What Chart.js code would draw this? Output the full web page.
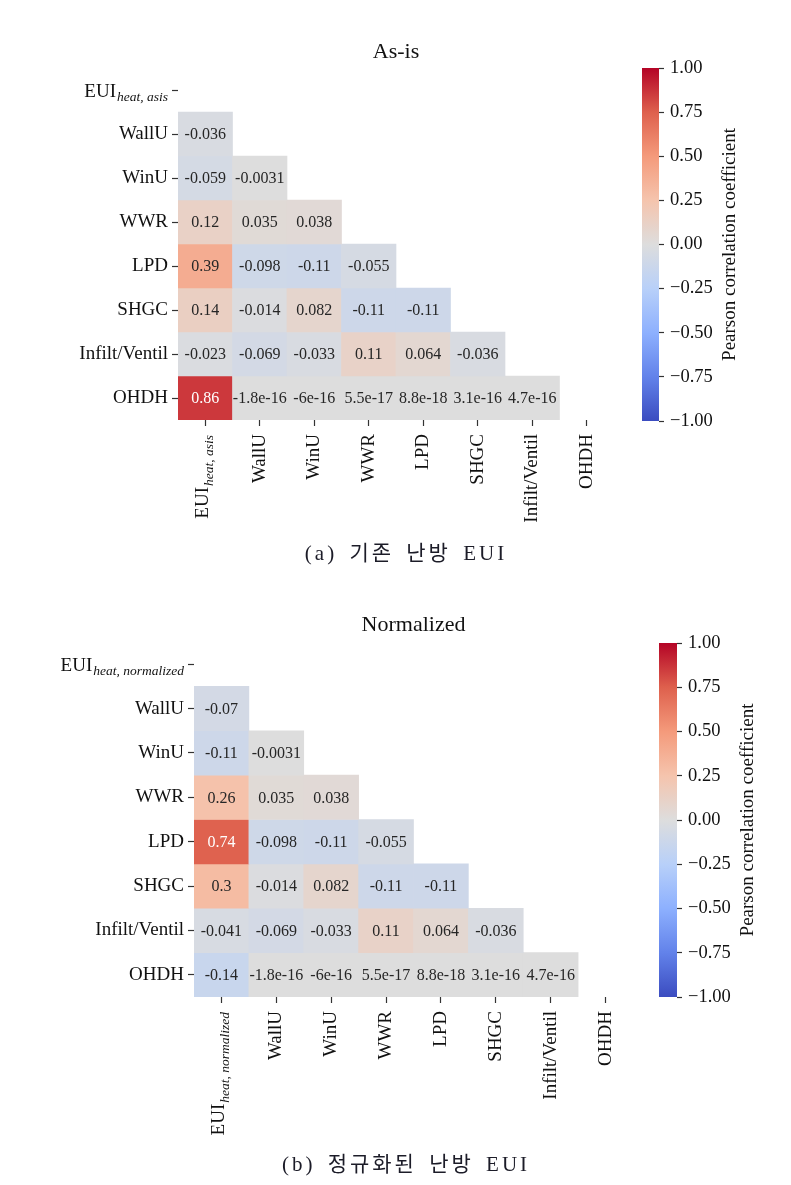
<!DOCTYPE html>
<html lang="ko">
<head>
<meta charset="utf-8">
<title>Pearson correlation heatmaps</title>
<script src="https://cdn.jsdelivr.net/npm/chart.js@4.4.1/dist/chart.umd.min.js"></script>
<style>
    html, body { margin: 0; padding: 0; background: #fff; }
    #page { position: relative; width: 791px; height: 1185px; overflow: hidden; }
    #page canvas { position: absolute; left: 0; top: 0; }
    .caption {
        position: absolute;
        left: 206px;
        width: 400px;
        text-align: center;
        font-family: "Liberation Serif", "Noto Sans CJK KR", serif;
        font-size: 21px;
        line-height: 24px;
        letter-spacing: 3px;
        word-spacing: 4px;
        color: #1c1c28;
        white-space: pre;
    }
</style>
</head>
<body>
<div id="page">
    <canvas id="heatA" width="791" height="1185"></canvas>
    <canvas id="barA" width="791" height="1185"></canvas>
    <canvas id="heatB" width="791" height="1185"></canvas>
    <canvas id="barB" width="791" height="1185"></canvas>
    <div class="caption" style="top:541px">(a) 기존 난방 EUI</div>
    <div class="caption" style="top:1152px">(b) 정규화된 난방 EUI</div>
</div>
<script>
// Correlation heatmaps (lower triangle), seaborn-style

const categories = ['EUI', 'WallU', 'WinU', 'WWR', 'LPD', 'SHGC', 'Infilt/Ventil', 'OHDH'];

// row r holds the correlations with columns 0..r-1
const asisCorr = [
    [],
    [-0.036],
    [-0.059, -0.0031],
    [0.12, 0.035, 0.038],
    [0.39, -0.098, -0.11, -0.055],
    [0.14, -0.014, 0.082, -0.11, -0.11],
    [-0.023, -0.069, -0.033, 0.11, 0.064, -0.036],
    [0.86, -1.8e-16, -6e-16, 5.5e-17, 8.8e-18, 3.1e-16, 4.7e-16]
];

const normCorr = [
    [],
    [-0.07],
    [-0.11, -0.0031],
    [0.26, 0.035, 0.038],
    [0.74, -0.098, -0.11, -0.055],
    [0.3, -0.014, 0.082, -0.11, -0.11],
    [-0.041, -0.069, -0.033, 0.11, 0.064, -0.036],
    [-0.14, -1.8e-16, -6e-16, 5.5e-17, 8.8e-18, 3.1e-16, 4.7e-16]
];

const colorbarTicks = [-1, -0.75, -0.5, -0.25, 0, 0.25, 0.5, 0.75, 1];

const W = 791, H = 1185;
const SERIF = '"Liberation Serif", "Times New Roman", serif';
const INK = '#111111';

// coolwarm colour stops, -1 .. 1
const coolwarmStops = [
    [59, 76, 192], [98, 130, 234], [141, 176, 254], [184, 208, 249],
    [221, 221, 221], [245, 196, 173], [244, 154, 123], [222, 96, 77], [180, 4, 38]
];

function coolwarmRgb(v) {
    const t = (Math.max(-1, Math.min(1, v)) + 1) / 2 * (coolwarmStops.length - 1);
    const i = Math.min(coolwarmStops.length - 2, Math.floor(t));
    const f = t - i;
    const a = coolwarmStops[i], b = coolwarmStops[i + 1];
    return [0, 1, 2].map(k => Math.round(a[k] + (b[k] - a[k]) * f));
}

function coolwarm(v) {
    const [r, g, b] = coolwarmRgb(v);
    return `rgb(${r},${g},${b})`;
}

function luminance(v) {
    const lin = coolwarmRgb(v).map(c => {
        c /= 255;
        return c <= 0.03928 ? c / 12.92 : Math.pow((c + 0.055) / 1.055, 2.4);
    });
    return 0.2126 * lin[0] + 0.7152 * lin[1] + 0.0722 * lin[2];
}

// python '.2g'
function fmt2g(v) {
    let s = v.toPrecision(2);
    if (s.includes('e')) {
        let [m, e] = s.split('e');
        if (m.includes('.')) m = m.replace(/0+$/, '').replace(/\.$/, '');
        const sign = e[0] === '-' ? '-' : '+';
        e = e.replace(/^[+-]/, '').padStart(2, '0');
        return `${m}e${sign}${e}`;
    }
    if (s.includes('.')) s = s.replace(/0+$/, '').replace(/\.$/, '');
    return s;
}

// numbers printed in each cell
const cellText = {
    id: 'cellText',
    afterDatasetsDraw(chart) {
        const corr = chart.options.plugins.cellText.corr;
        const ctx = chart.ctx;
        ctx.save();
        ctx.font = `16px ${SERIF}`;
        ctx.textAlign = 'center';
        ctx.textBaseline = 'middle';
        chart.data.datasets.forEach((ds, di) => {
            const r = ds.row;
            chart.getDatasetMeta(di).data.forEach((bar, c) => {
                if (c >= r) return;
                const v = corr[r][c];
                const p = bar.getCenterPoint();
                ctx.fillStyle = luminance(v) > 0.408 ? '#262626' : '#ffffff';
                ctx.fillText(fmt2g(v), p.x, p.y + 1);
            });
        });
        ctx.restore();
    }
};

// EUI label with italic subscript on both axes
const euiLabels = {
    id: 'euiLabels',
    afterDraw(chart) {
        const sub = chart.options.plugins.euiLabels.sub;
        const ctx = chart.ctx;
        const area = chart.chartArea;
        const y0 = chart.scales.y.getPixelForValue(0.5);
        const x0 = chart.scales.x.getPixelForValue(0);
        ctx.save();
        ctx.fillStyle = INK;
        ctx.textBaseline = 'alphabetic';
        ctx.textAlign = 'right';

        ctx.font = `italic 13.5px ${SERIF}`;
        const subW = ctx.measureText(sub).width;

        // y axis
        const endX = area.left - 10;
        ctx.fillText(sub, endX, y0 + 11);
        ctx.font = `19px ${SERIF}`;
        ctx.fillText('EUI', endX - subW - 1, y0 + 7);

        // x axis, rotated
        ctx.translate(x0, area.bottom + 15);
        ctx.rotate(-Math.PI / 2);
        ctx.font = `italic 13.5px ${SERIF}`;
        ctx.fillText(sub, 0, 8);
        ctx.font = `19px ${SERIF}`;
        ctx.fillText('EUI', -subW - 1, 3);
        ctx.restore();
    }
};

function heatmap(id, corr, sub, title, box) {
    const datasets = [];
    corr.forEach((row, r) => {
        if (r === 0) return;
        datasets.push({
            label: categories[r],
            row: r,
            data: categories.map((_, c) => (c < r ? [r, r + 1] : null)),
            backgroundColor: ctx => coolwarm(corr[r][ctx.dataIndex] ?? 0),
            borderWidth: 0
        });
    });

    const padTop = box.titleY - 13.2;
    const tickFont = { family: SERIF, size: 19 };
    const tickGrid = {
        drawOnChartArea: false,
        drawTicks: true,
        tickLength: 6,
        tickWidth: 1.2,
        tickColor: '#333333',
        offset: false
    };

    new Chart(document.getElementById(id), {
        type: 'bar',
        data: { labels: categories, datasets },
        options: {
            responsive: false,
            animation: false,
            devicePixelRatio: 1,
            layout: { padding: { left: 0, right: W - box.right, top: padTop, bottom: 0 } },
            datasets: { bar: { grouped: false, barPercentage: 1, categoryPercentage: 1 } },
            plugins: {
                legend: { display: false },
                tooltip: { enabled: false },
                title: {
                    display: true,
                    text: title,
                    fullSize: false,
                    color: INK,
                    font: { family: SERIF, size: 22, weight: 'normal', lineHeight: 1.2 },
                    padding: { top: 0, bottom: box.top - padTop - 26.4 }
                },
                cellText: { corr },
                euiLabels: { sub }
            },
            scales: {
                x: {
                    type: 'category',
                    offset: true,
                    grid: tickGrid,
                    border: { display: false },
                    ticks: {
                        autoSkip: false,
                        minRotation: 90,
                        maxRotation: 90,
                        padding: 8,
                        color: INK,
                        font: tickFont,
                        callback: (v, i) => (i === 0 ? '' : categories[i])
                    },
                    afterFit: s => { s.height = H - box.bottom; }
                },
                y: {
                    type: 'linear',
                    reverse: true,
                    min: 0,
                    max: categories.length,
                    grid: tickGrid,
                    border: { display: false },
                    afterBuildTicks: s => { s.ticks = categories.map((_, i) => ({ value: i + 0.5 })); },
                    ticks: {
                        padding: 4,
                        color: INK,
                        font: tickFont,
                        callback: (v, i) => (i === 0 ? '' : categories[i])
                    },
                    afterFit: s => { s.width = box.left; }
                }
            }
        },
        plugins: [cellText, euiLabels]
    });
}

const colorbarTitle = {
    id: 'colorbarTitle',
    afterDraw(chart) {
        const a = chart.chartArea;
        const ctx = chart.ctx;
        ctx.save();
        ctx.translate(a.right + 71, (a.top + a.bottom) / 2);
        ctx.rotate(-Math.PI / 2);
        ctx.font = `19px ${SERIF}`;
        ctx.fillStyle = INK;
        ctx.textAlign = 'center';
        ctx.textBaseline = 'middle';
        ctx.fillText('Pearson correlation coefficient', 0, 0);
        ctx.restore();
    }
};

function colorbarFill(chart) {
    const a = chart.chartArea;
    if (!a) return coolwarm(0);
    const g = chart.ctx.createLinearGradient(0, a.bottom, 0, a.top);
    coolwarmStops.forEach((c, i) => {
        g.addColorStop(i / (coolwarmStops.length - 1), `rgb(${c[0]},${c[1]},${c[2]})`);
    });
    return g;
}

function colorbar(id, box) {
    new Chart(document.getElementById(id), {
        type: 'bar',
        data: {
            labels: ['r'],
            datasets: [{
                data: [[-1, 1]],
                backgroundColor: ctx => colorbarFill(ctx.chart),
                borderWidth: 0,
                barPercentage: 1,
                categoryPercentage: 1
            }]
        },
        options: {
            responsive: false,
            animation: false,
            devicePixelRatio: 1,
            layout: { padding: { left: box.left, right: 0, top: box.top, bottom: H - box.bottom } },
            plugins: { legend: { display: false }, tooltip: { enabled: false } },
            scales: {
                x: { display: false },
                y: {
                    position: 'right',
                    min: -1,
                    max: 1,
                    grid: { drawOnChartArea: false, drawTicks: true, tickLength: 5, tickWidth: 1.2, tickColor: '#333333' },
                    border: { display: false },
                    afterBuildTicks: s => { s.ticks = colorbarTicks.map(v => ({ value: v })); },
                    ticks: {
                        padding: 6,
                        color: INK,
                        font: { family: SERIF, size: 18.5 },
                        callback: v => v.toFixed(2).replace('-', '\u2212')
                    },
                    afterFit: s => { s.width = W - box.right; }
                }
            }
        },
        plugins: [colorbarTitle]
    });
}

heatmap('heatA', asisCorr, 'heat, asis', 'As-is',
    { left: 178, right: 614, top: 68, bottom: 420, titleY: 52 });
colorbar('barA', { left: 642, right: 659, top: 68, bottom: 421 });

heatmap('heatB', normCorr, 'heat, normalized', 'Normalized',
    { left: 194, right: 633, top: 642, bottom: 997, titleY: 625 });
colorbar('barB', { left: 659, right: 677, top: 643, bottom: 997 });
</script>
</body>
</html>
